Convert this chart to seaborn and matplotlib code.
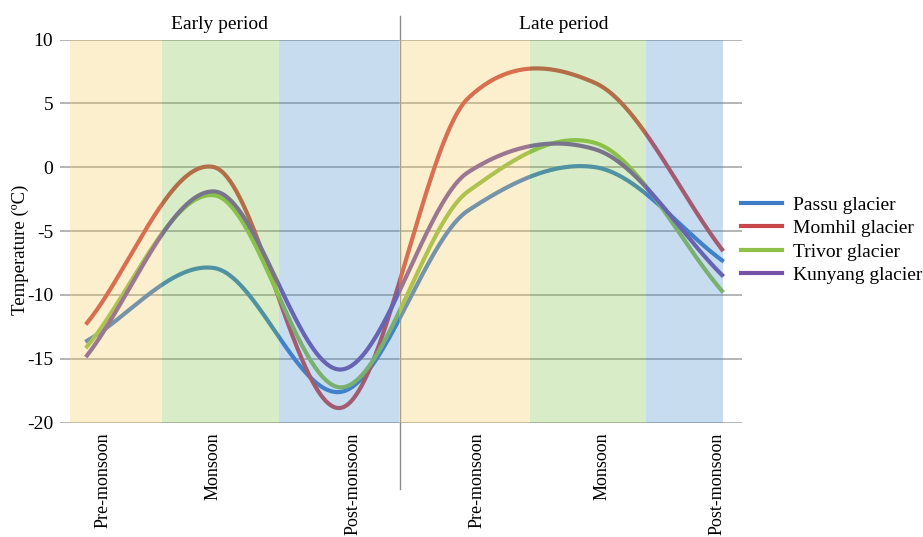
import numpy as np
import pandas as pd
import matplotlib
matplotlib.use("Agg")
import matplotlib.pyplot as plt
import matplotlib.transforms as mtransforms
import seaborn as sns

# Seasonal mean temperature (°C) for each glacier, early then late period
seasons = ["Pre-monsoon", "Monsoon", "Post-monsoon",
           "Pre-monsoon", "Monsoon", "Post-monsoon"]
periods = ["Early period", "Late period"]
glaciers = ["Passu glacier", "Momhil glacier", "Trivor glacier", "Kunyang glacier"]

passu = [-13.6, -7.9, -17.6, -3.4, 0.0, -7.3]
momhil = [-12.2, 0.0, -18.85, 5.4, 6.6, -6.45]
trivor = [-14.05, -2.2, -17.25, -1.9, 1.9, -9.7]
kunyang = [-14.75, -1.9, -15.85, -0.4, 1.4, -8.45]

yticks = [-20, -15, -10, -5, 0, 5, 10]

line_colors = ["#3d7cc9", "#c9474a", "#8fc049", "#7452a8"]
band_colors = ["#f8cd5f", "#80c648", "#488ecd"]  # pre-monsoon, monsoon, post-monsoon
band_edges = [-0.134, 0.593, 1.514, 2.457, 3.488, 4.399, 5.01]
label_shift_px = [16, -1, 12, 9, 7, -5]  # horizontal nudge of season labels


def smooth_line(y, samples=80, tension=0.74):
    """Cardinal (Hermite) smoothing through equally spaced points."""
    y = np.asarray(y, float)
    n = len(y)
    m = np.empty(n)
    m[1:-1] = tension * (y[2:] - y[:-2]) / 2
    m[0] = y[1] - y[0]
    m[-1] = y[-1] - y[-2]
    xs, ys = [], []
    t = np.linspace(0, 1, samples)
    h00 = 2 * t**3 - 3 * t**2 + 1
    h10 = t**3 - 2 * t**2 + t
    h01 = -2 * t**3 + 3 * t**2
    h11 = t**3 - t**2
    for i in range(n - 1):
        xs.append(i + t)
        ys.append(h00 * y[i] + h10 * m[i] + h01 * y[i + 1] + h11 * m[i + 1])
    return np.concatenate(xs), np.concatenate(ys)


pos = np.arange(len(seasons))
frames = []
for name, vals in zip(glaciers, [passu, momhil, trivor, kunyang]):
    sx, sy = smooth_line(vals)
    frames.append(pd.DataFrame({"x": sx, "temp": sy, "glacier": name}))
curves = pd.concat(frames, ignore_index=True)

plt.rcParams["font.family"] = ["Liberation Serif", "DejaVu Serif"]

fig = plt.figure(figsize=(9.23, 5.37), dpi=100)
ax = fig.add_axes([60 / 923, 1 - 422.5 / 537, 681.7 / 923, 383 / 537])

sns.lineplot(data=curves, x="x", y="temp", hue="glacier", hue_order=glaciers,
             palette=line_colors, linewidth=3, sort=False, ax=ax, zorder=2,
             legend=False, estimator=None)

# Horizontal grid and the period divider sit under the translucent season bands
for yv in yticks:
    ax.axhline(yv, color="#a0a0a0", lw=1.1, zorder=1)
ax.plot([2.465, 2.465], [11.84, -25.2], color="#8c8c8c", lw=1.0,
        clip_on=False, zorder=1)

for i in range(6):
    ax.axvspan(band_edges[i], band_edges[i + 1], ymin=0, ymax=1,
               color=band_colors[i % 3], alpha=0.3, lw=0, zorder=3)

ax.set_xlim(-0.213, 5.155)
ax.set_ylim(-20, 10)
ax.set_yticks(yticks)
ax.set_yticklabels([str(v) for v in yticks], fontsize=14)
ax.set_xticks(pos)
ax.set_xticklabels(seasons, rotation=90, fontsize=13, va="top")
ax.tick_params(axis="both", length=0, pad=5)
ax.tick_params(axis="x", pad=7)
for lbl, dx in zip(ax.get_xticklabels(), label_shift_px):
    lbl.set_transform(lbl.get_transform() +
                      mtransforms.ScaledTranslation(dx / 100, 0, fig.dpi_scale_trans))
for s in ax.spines.values():
    s.set_visible(False)
ax.set_xlabel("")
ax.set_ylabel("Temperature (ºC)", fontsize=13.5)
ax.yaxis.set_label_coords(-0.046, 0.45)

ax.text(1.043, 11.2, periods[0], ha="center", va="center", fontsize=14)
ax.text(3.756, 11.2, periods[1], ha="center", va="center", fontsize=14)

handles = [plt.Line2D([], [], color=c, lw=3) for c in line_colors]
fig.legend(handles, glaciers, loc="upper left",
           bbox_to_anchor=(741 / 923, 1 - 196 / 537), frameon=False,
           fontsize=14, handlelength=2.1, handletextpad=0.55,
           labelspacing=0.3, borderpad=0, borderaxespad=0)

fig.savefig("out.png", dpi=100)
